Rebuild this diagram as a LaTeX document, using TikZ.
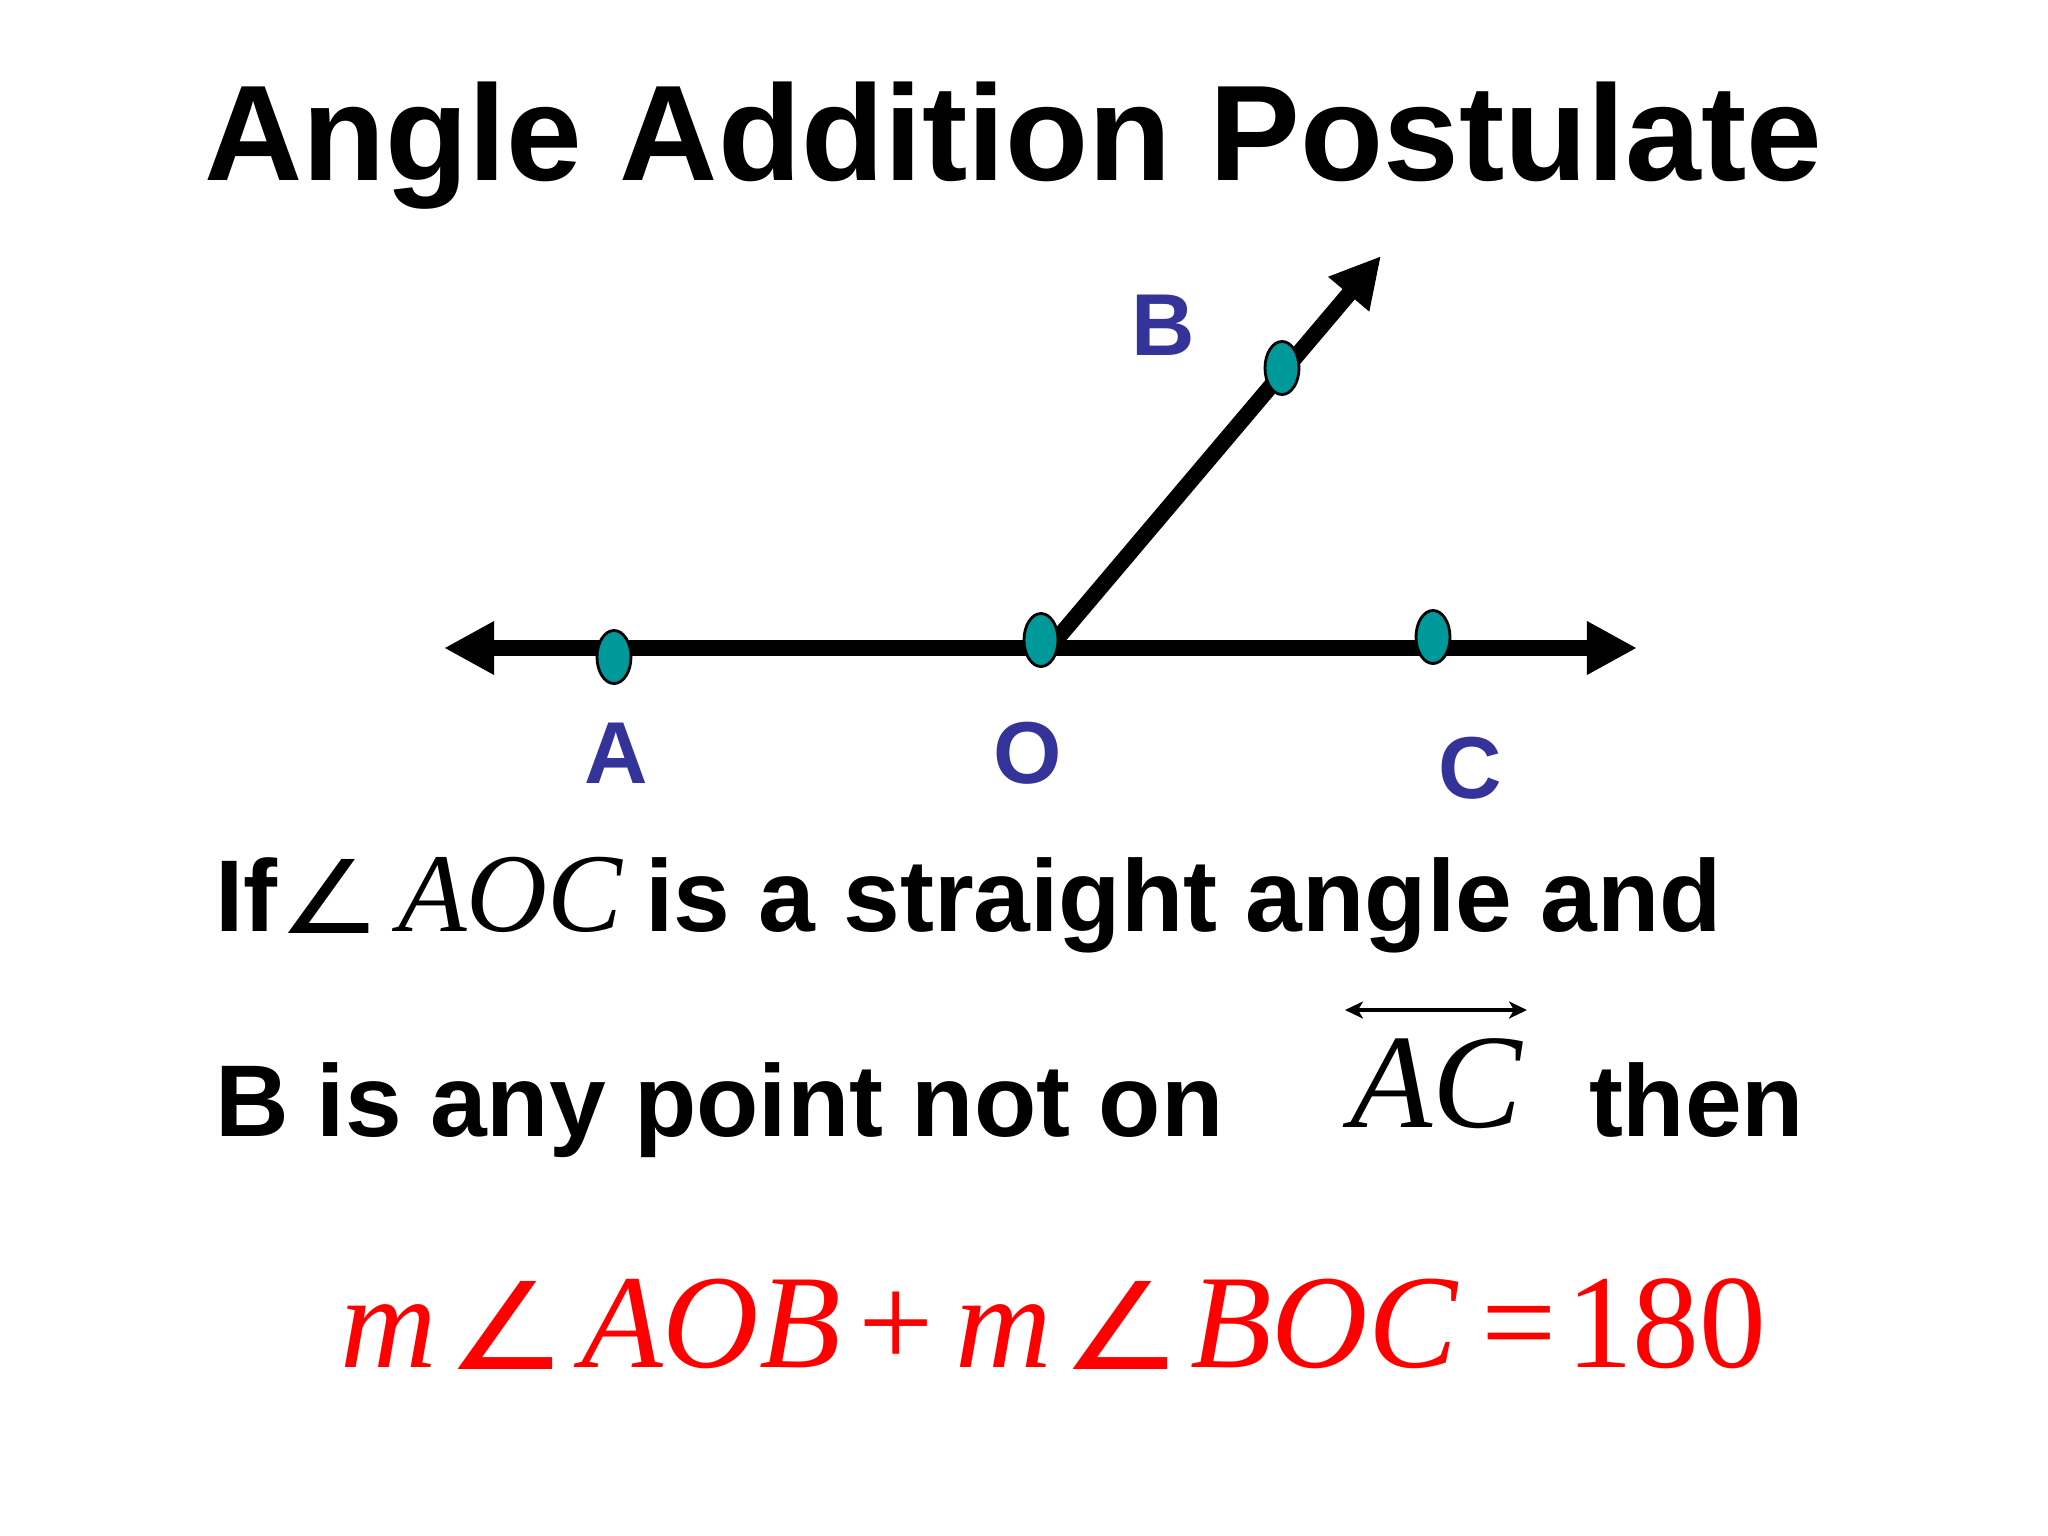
\documentclass[tikz,border=0pt]{standalone}
\usepackage{fontspec}
\setmainfont{Liberation Sans}
\newfontfamily\tnr{Liberation Serif}
\newfontfamily\dv{DejaVu Sans}
\usetikzlibrary{arrows.meta,shapes.geometric}
\definecolor{teal1}{RGB}{0,153,153}
\definecolor{lblue}{RGB}{51,51,153}
\definecolor{fred}{RGB}{255,0,0}
\begin{document}
\begin{tikzpicture}[x=0.01cm,y=-0.01cm,
  txt/.style={inner sep=0pt, outer sep=0pt, anchor=base west},
  titlefont/.style={inner sep=0pt, anchor=base, font=\fontsize{38.7}{40}\selectfont\bfseries},
  body/.style={txt, font=\fontsize{29}{30}\selectfont\bfseries},
  mathit/.style={txt, font=\fontsize{31.9}{33}\selectfont\tnr\itshape},
  acfont/.style={txt, font=\fontsize{38.2}{40}\selectfont\tnr\itshape},
  formula/.style={txt, text=fred, font=\fontsize{38}{40}\selectfont\tnr},
  ptlabel/.style={inner sep=0pt, text=lblue, font=\fontsize{25}{26}\selectfont\bfseries},
  pt/.style={ellipse, draw=black, line width=0.8pt, fill=teal1, inner sep=0pt,
             minimum width=0.34cm, minimum height=0.53cm},
  thick line/.style={line width=0.16cm,
     {Triangle[length=0.5cm,width=0.5cm]}-{Triangle[length=0.5cm,width=0.5cm]}},
  ray/.style={line width=0.16cm, -{Triangle[length=0.5cm,width=0.5cm]}},
  thin arrow/.style={line width=0.9pt,
     {Stealth[length=0.18cm,width=0.17cm,inset=0.05cm]}-{Stealth[length=0.18cm,width=0.17cm,inset=0.05cm]}}
]
\useasboundingbox (0,0) rectangle (2048,1536);
\fill[white] (0,0) rectangle (2048,1536);

% title
\node[titlefont] (title) at (1013,180) {Angle Addition Postulate};

% coordinates
\coordinate (Ltip) at (444,648);
\coordinate (Rtip) at (1637,648);
\coordinate (Oray) at (1056,640);
\coordinate (Btip) at (1381,256);

\draw[thick line] (Ltip) -- (Rtip);
\draw[ray] (Oray) -- (Btip);

% points
\node[pt] (A) at (614,657) {};
\node[pt] (O) at (1041,640) {};
\node[pt] (C) at (1433,637) {};
\node[pt] (B) at (1282,368) {};

% point labels
\node[ptlabel] (lA) at (616,753) {A};
\node[ptlabel] (lO) at (1028,753) {O};
\node[ptlabel] (lC) at (1470,768) {C};
\node[ptlabel] (lB) at (1163,325) {B};

% line 1
\node[body] (l1a) at (215,931) {If};
\node[txt] (l1ang) at (278,933) {\resizebox{1.03cm}{0.74cm}{\dv ∠}};
\node[mathit] (l1aoc) at (398,931) {AOC};
\node[body] (l1b) at (645,931) {is a straight angle and};

% line 2
\node[body] (l2a) at (215,1136) {B is any point not on};
\node[acfont] (l2ac) at (1350,1127) {AC};
\coordinate (acL) at (1345,1010);
\coordinate (acR) at (1527,1010);
\draw[thin arrow] (acL) -- (acR);
\node[body] (l2b) at (1589,1136) {then};

% formula
\node[formula] (f1) at (340,1367) {\itshape m};
\node[formula] (f2) at (446,1369) {\resizebox{1.21cm}{0.88cm}{\dv ∠}};
\node[formula] (f3) at (581,1367) {\itshape AOB};
\node[formula] (f4) at (858,1367) {+};
\node[formula] (f5) at (955,1367) {\itshape m};
\node[formula] (f6) at (1061,1369) {\resizebox{1.21cm}{0.88cm}{\dv ∠}};
\node[formula] (f7) at (1190,1367) {\itshape BOC};
\node[formula] (f8) at (1481,1367) {=};
\node[formula] (f9) at (1566,1367) {180};
\end{tikzpicture}
\end{document}
